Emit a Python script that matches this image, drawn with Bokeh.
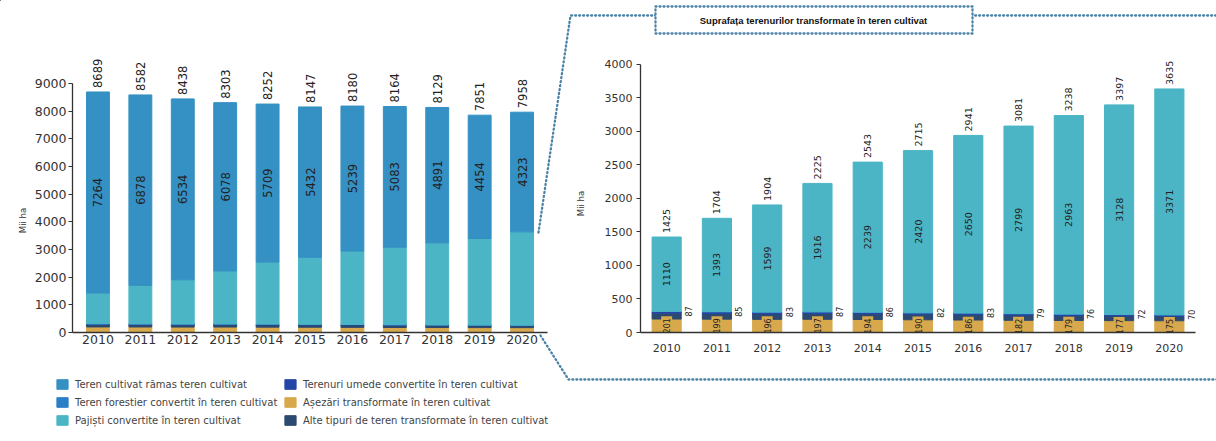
from math import pi
from bokeh.plotting import figure
from bokeh.models import (ColumnDataSource, FactorRange, Range1d, Legend, LegendItem,
                          FixedTicker, GridBox)
from bokeh.layouts import row, column
from bokeh.embed import file_html
from bokeh.resources import INLINE
from bokeh.core.properties import value

# ---------------- data ----------------
years = ["2010", "2011", "2012", "2013", "2014", "2015", "2016", "2017", "2018", "2019", "2020"]
total_cropland = [8689, 8582, 8438, 8303, 8252, 8147, 8180, 8164, 8129, 7851, 7958]
remaining = [7264, 6878, 6534, 6078, 5709, 5432, 5239, 5083, 4891, 4454, 4323]
converted_total = [1425, 1704, 1904, 2225, 2543, 2715, 2941, 3081, 3238, 3397, 3635]
grassland = [1110, 1393, 1599, 1916, 2239, 2420, 2650, 2799, 2963, 3128, 3371]
settlements = [201, 199, 196, 197, 194, 190, 186, 182, 179, 177, 175]
other_land = [87, 85, 83, 87, 86, 82, 83, 79, 76, 72, 70]
wetlands = [27, 27, 26, 25, 24, 23, 22, 21, 20, 20, 19]
forest = [0, 0, 0, 0, 0, 0, 0, 0, 0, 0, 0]

left_ticks = [0, 1000, 2000, 3000, 4000, 5000, 6000, 7000, 8000, 9000]
right_ticks = [0, 500, 1000, 1500, 2000, 2500, 3000, 3500, 4000]

names = ["Teren cultivat rămas teren cultivat",
         "Teren forestier convertit în teren cultivat",
         "Pajiști convertite în teren cultivat",
         "Terenuri umede convertite în teren cultivat",
         "Așezări transformate în teren cultivat",
         "Alte tipuri de teren transformate în teren cultivat"]
title_text = "Suprafața terenurilor transformate în teren cultivat"
ylabel = "Mii ha"

# ---------------- style ----------------
FONT = "DejaVu Sans"
C_REM = "#3590c3"
C_FOR = "#2b7fc7"
C_GRASS = "#4bb5c5"
C_WET = "#2545a6"
C_SET = "#d8a94c"
C_OTH = "#2c4970"
DOT = "#4a82a6"
TXT = "#222222"
W, H = 1216, 441


def style(p, tick_px, x_standoff, y_standoff):
    p.xgrid.grid_line_color = None
    p.ygrid.grid_line_color = None
    p.outline_line_color = None
    p.background_fill_color = "white"
    p.border_fill_color = "white"
    for ax in (p.xaxis, p.yaxis):
        ax.axis_line_color = "#333333"
        ax.axis_line_width = 1.3
        ax.major_label_text_font = FONT
        ax.major_label_text_font_size = tick_px
        ax.major_label_text_color = "#333333"
        ax.minor_tick_line_color = None
    p.yaxis.major_tick_line_color = "#333333"
    p.yaxis.major_tick_out = 4
    p.yaxis.major_tick_in = 0
    p.yaxis.major_label_standoff = y_standoff
    p.xaxis.major_tick_line_color = None
    p.xaxis.major_tick_out = 0
    p.xaxis.major_tick_in = 0
    p.xaxis.major_label_standoff = x_standoff


# ---------------- left chart ----------------
lsrc = ColumnDataSource(dict(
    year=years, settl=settlements, oth=other_land, wet=wetlands, forest=forest,
    grass=grassland, rem=remaining,
    total=total_cropland, total_s=[str(v) for v in total_cropland],
    mid=[c + r / 2 for c, r in zip(converted_total, remaining)],
    rem_s=[str(v) for v in remaining],
))

left = figure(x_range=FactorRange(factors=years, range_padding=0.1, range_padding_units="absolute"),
              y_range=Range1d(0, 10548), width=575, height=H,
              min_border_left=72, min_border_right=28, min_border_top=40, min_border_bottom=108,
              toolbar_location=None, output_backend="svg")
style(left, "12.5px", 2, 2)
left.yaxis.ticker = FixedTicker(ticks=left_ticks)
left.yaxis.bounds = (0, 9000)
left.vbar_stack(["settl", "oth", "wet", "forest", "grass", "rem"], x="year", width=0.54,
                color=[C_SET, C_OTH, C_WET, C_FOR, C_GRASS, C_REM], source=lsrc)
left.text(x="year", y="total", text="total_s", angle=pi / 2, text_align="left",
          text_baseline="middle", y_offset=-4, text_font=value(FONT),
          text_font_size="11.5px", text_color=TXT, source=lsrc)
left.text(x="year", y="mid", text="rem_s", angle=pi / 2, text_align="center",
          text_baseline="middle", text_font=value(FONT),
          text_font_size="11.5px", text_color=TXT, source=lsrc)

# ---------------- right chart ----------------
rsrc = ColumnDataSource(dict(
    year=years, settl=settlements, oth=other_land, wet=wetlands, forest=forest, grass=grassland,
    total=converted_total, total_s=[str(v) for v in converted_total],
    gmid=[s + o + w + g / 2 for s, o, w, g in zip(settlements, other_land, wetlands, grassland)],
    grass_s=[str(v) for v in grassland],
    smid=[s / 2 for s in settlements], settl_s=[str(v) for v in settlements],
    opos=[s + o + w for s, o, w in zip(settlements, other_land, wetlands)],
    oth_s=[str(v) for v in other_land],
))

right = figure(x_range=FactorRange(factors=years, range_padding=0.02, range_padding_units="absolute"),
               y_range=Range1d(0, 4358), width=W - 575, height=H,
               min_border_left=65, min_border_right=21, min_border_top=40, min_border_bottom=109,
               toolbar_location=None, output_backend="svg")
style(right, "11px", 11, 4)
right.yaxis.ticker = FixedTicker(ticks=right_ticks)
right.yaxis.bounds = (0, 4000)
right.vbar_stack(["settl", "oth", "wet", "forest", "grass"], x="year", width=0.58,
                 color=[C_SET, C_OTH, C_WET, C_FOR, C_GRASS], source=rsrc)
right.text(x="year", y="total", text="total_s", angle=pi / 2, text_align="left",
           text_baseline="middle", y_offset=-4, text_font=value(FONT),
           text_font_size="9.5px", text_color=TXT, source=rsrc)
right.text(x="year", y="gmid", text="grass_s", angle=pi / 2, text_align="center",
           text_baseline="middle", text_font=value(FONT),
           text_font_size="9.5px", text_color=TXT, source=rsrc)
right.text(x="year", y="smid", text="settl_s", angle=pi / 2, text_align="center",
           text_baseline="middle", text_font=value(FONT),
           text_font_size="8px", text_color=TXT, source=rsrc,
           background_fill_color=C_SET, padding=2)
right.text(x="year", y="opos", text="oth_s", angle=pi / 2, text_align="center",
           text_baseline="middle", x_offset=22, text_font=value(FONT),
           text_font_size="8px", text_color=TXT, source=rsrc)

# ---------------- transparent overlay: connector, title box, axis titles, legend ----------------
deco = figure(width=W, height=H, x_range=Range1d(0, W), y_range=Range1d(H, 0),
              min_border=0, toolbar_location=None, output_backend="svg")
deco.axis.visible = False
deco.xgrid.grid_line_color = None
deco.ygrid.grid_line_color = None
deco.outline_line_color = None
deco.background_fill_color = None
deco.border_fill_color = None

dot_kw = dict(line_color=DOT, line_width=2.3, line_dash="1 3", line_cap="round")
deco.line(x=[538, 570, W], y=[232, 15, 15], **dot_kw)
deco.line(x=[540, 568, W], y=[335, 379, 379], **dot_kw)
deco.quad(left=[655], right=[972], top=[6], bottom=[33], fill_color="white", **dot_kw)
deco.text(x=[813], y=[20], text=[title_text], text_align="center", text_baseline="middle",
          text_font=value("Liberation Sans"), text_font_style="bold", text_font_size="9.5px",
          text_color="#111111")
deco.text(x=[22, 580], y=[220, 203], text=[ylabel, ylabel], angle=pi / 2, text_align="center",
          text_baseline="middle", text_font=value(FONT), text_font_size="8.5px",
          text_color="#333333")

cols = [C_REM, C_FOR, C_GRASS, C_WET, C_SET, C_OTH]
rends = [deco.vbar(x=[-500], top=[-500], bottom=[-490], width=1, color=c) for c in cols]


def make_legend(idx, loc):
    lgd = Legend(items=[LegendItem(label=names[i], renderers=[rends[i]]) for i in idx],
                 location=loc, orientation="vertical", glyph_width=14, glyph_height=12,
                 label_height=12, label_standoff=6, spacing=6, padding=0, margin=0,
                 border_line_color=None, background_fill_alpha=0,
                 label_text_font=FONT, label_text_font_size="10px", label_text_color="#444444")
    deco.add_layout(lgd)


make_legend([0, 1, 2], (55, 15))
make_legend([3, 4, 5], (283, 15))

charts = row(left, right)
overlay = column(deco)
layout = GridBox(children=[(charts, 0, 0), (overlay, 0, 0)])
open("out.html", "w").write(file_html(layout, INLINE))
